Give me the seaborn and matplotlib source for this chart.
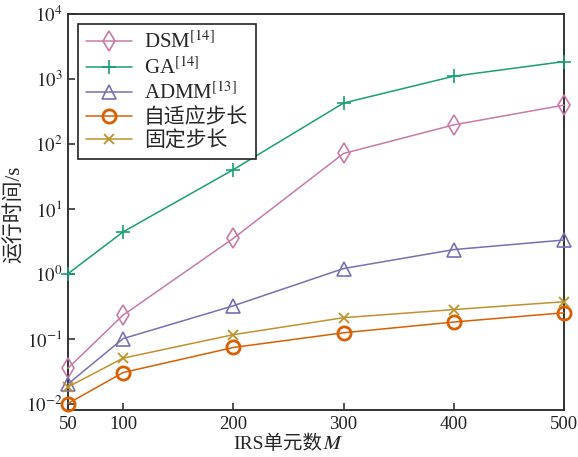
import numpy as np
import pandas as pd
import seaborn as sns
import matplotlib
matplotlib.use("Agg")
import matplotlib.pyplot as plt

sns.set_theme(style="white")
plt.rcParams.update({
    "font.family": ["Liberation Serif", "Noto Sans CJK SC", "STIXGeneral", "DejaVu Sans"],
    "mathtext.fontset": "stix",
    "axes.unicode_minus": False,
    "axes.linewidth": 1.4,
    "axes.edgecolor": "#333333",
    "xtick.direction": "in",
    "ytick.direction": "in",
    "xtick.major.size": 5,
    "ytick.major.size": 5,
    "xtick.major.width": 1.2,
    "ytick.major.width": 1.2,
    "xtick.color": "#333333",
    "ytick.color": "#333333",
    "xtick.labelcolor": "#222222",
    "ytick.labelcolor": "#222222",
})

# data
M = [50, 100, 200, 300, 400, 500]
dsm = [0.035, 0.23, 3.5, 71, 196, 395]
ga = [1.0, 4.4, 40, 425, 1100, 1850]
admm = [0.020, 0.10, 0.32, 1.2, 2.35, 3.3]
adaptive = [0.010, 0.030, 0.073, 0.123, 0.18, 0.25]
fixed = [0.018, 0.050, 0.115, 0.21, 0.28, 0.37]

labels = ["DSM$^{[14]}$", "GA$^{[14]}$", "ADMM$^{[13]}$", "自适应步长", "固定步长"]
series = [dsm, ga, admm, adaptive, fixed]
colors = ["#c97aa9", "#1b9e77", "#7570b3", "#d95f02", "#bf922e"]
markers = ["d", "+", "^", "o", "x"]
msizes = [10, 10, 10, 9.5, 7]
mews = [1.2, 1.2, 1.2, 2.0, 1.3]

fig = plt.figure(figsize=(5.78, 4.57), dpi=100)
ax = fig.add_axes([0.1176, 0.1028, 0.8582, 0.8666])

for lab, vals, c, mk, ms, mew in zip(labels, series, colors, markers, msizes, mews):
    df = pd.DataFrame({"M": M, "t": vals})
    sns.lineplot(data=df, x="M", y="t", ax=ax, label=lab, color=c,
                 marker=mk, markersize=ms, markeredgewidth=mew,
                 markerfacecolor="none", markeredgecolor=c,
                 linewidth=1.1, clip_on=False, zorder=3)

ax.set_yscale("log")
ax.set_xlim(50, 500)
ax.set_ylim(10 ** -2.1, 1e4)
ax.set_xticks([50, 100, 200, 300, 400, 500])
ax.set_yticks([1e-2, 1e-1, 1e0, 1e1, 1e2, 1e3, 1e4])
ax.yaxis.set_minor_locator(matplotlib.ticker.NullLocator())
ax.set_yticklabels([f"$10^{{{k}}}$" for k in range(-2, 5)])
ax.tick_params(axis="both", labelsize=13.5, pad=4)
ax.tick_params(axis="y", left=True, right=False)
ax.tick_params(axis="x", bottom=True, top=False)

ax.set_xlabel("IRS单元数\U0001D440", fontsize=14)
ax.xaxis.set_label_coords(0.443, -0.062)
ax.set_ylabel("运行时间/s", fontsize=15)
ax.yaxis.set_label_coords(-0.086, 0.495)

leg = ax.legend(loc="upper left", bbox_to_anchor=(0.0, 1.0), fontsize=15,
                fancybox=False, framealpha=1, edgecolor="#222222",
                handlelength=2.2, borderaxespad=0.5, labelspacing=0.18,
                handletextpad=0.6, borderpad=0.35)
leg.get_frame().set_linewidth(1.2)

fig.savefig("out.png", dpi=100)
